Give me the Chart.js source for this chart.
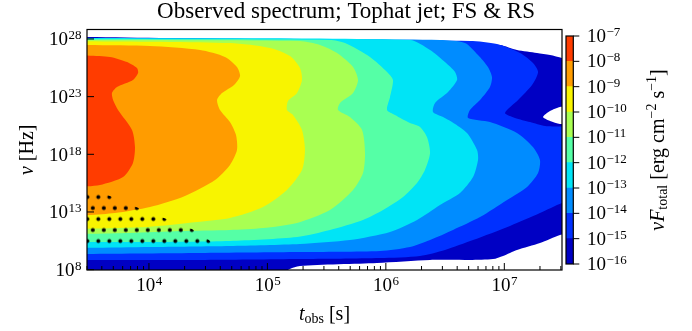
<!DOCTYPE html>
<html>
<head>
<meta charset="utf-8">
<script src="https://cdn.jsdelivr.net/npm/chart.js@4.4.0/dist/chart.umd.min.js"></script>
<style>
body { margin: 0; background: #fff; }
#wrap { position: relative; width: 692px; height: 331px; }
#main { position: absolute; left: 0; top: 0; }
#cbar { position: absolute; left: 560px; top: 0; }
</style>
</head>
<body>
<div id="wrap">
<canvas id="main" width="692" height="331"></canvas>
<canvas id="cbar" width="132" height="331"></canvas>
</div>
<script>
// axis limits (log10 of t_obs in s, log10 of nu in Hz)
var tMin = 3.477, tMax = 7.487;
var nuMin = 7.97, nuMax = 28.82;
var xTicks = [4, 5, 6, 7];
var yTicks = [8, 13, 18, 23, 28];

// colour levels, log10 of nu F_total
var levelExps = [-16, -15, -14, -13, -12, -11, -10, -9, -8, -7];
var levelColors = ['#0000c4', '#0030ff', '#008cff', '#00e4f6', '#55ffa6', '#a9ff52', '#f8f400', '#ff9c00', '#ff3c00'];

// contour outlines: region where nuF > 10^-n (log t, log nu)
var t8  = [3.40, 3.671, 3.815, 3.899, 3.908, 3.865, 3.730, 3.688, 3.697, 3.739, 3.857, 3.882, 3.865, 3.781, 3.587, 3.40];
var nu8 = [26.61, 26.44, 26.00, 25.48, 25.05, 24.44, 23.83, 23.31, 22.71, 21.84, 20.11, 18.63, 17.25, 16.03, 15.34, 15.17];

var t9  = [3.40, 4.009, 4.431, 4.642, 4.743, 4.769, 4.718, 4.617, 4.575, 4.600, 4.684, 4.735, 4.743, 4.684, 4.558, 4.304, 4.009, 3.713, 3.40];
var nu9 = [27.48, 27.39, 27.04, 26.44, 25.57, 24.79, 24.01, 23.31, 22.71, 21.84, 20.80, 19.67, 18.37, 17.07, 15.77, 14.39, 13.43, 12.91, 12.65];

var t10  = [3.40, 4.684, 5.022, 5.191, 5.275, 5.292, 5.250, 5.174, 5.165, 5.216, 5.292, 5.317, 5.292, 5.165, 4.963, 4.684, 4.406, 3.984, 3.40];
var nu10 = [27.82, 27.65, 27.22, 26.52, 25.48, 24.44, 23.31, 22.62, 21.84, 21.41, 20.11, 18.37, 16.64, 14.91, 13.43, 12.48, 12.13, 11.70, 11.53];

var t11  = [3.40, 5.275, 5.444, 5.588, 5.723, 5.765, 5.723, 5.613, 5.596, 5.697, 5.799, 5.824, 5.807, 5.723, 5.528, 5.250, 4.963, 4.684, 4.262, 3.840, 3.40];
var nu11 = [27.91, 27.82, 27.48, 26.78, 25.57, 24.44, 23.31, 22.45, 21.84, 21.23, 20.11, 18.11, 16.38, 14.91, 13.17, 12.05, 11.61, 11.44, 11.35, 11.18, 11.09];

var t12  = [3.40, 5.528, 5.655, 5.866, 6.010, 6.060, 6.035, 6.010, 6.077, 6.204, 6.288, 6.347, 6.373, 6.330, 6.263, 6.145, 5.976, 5.807, 5.528, 5.250, 4.684, 4.009, 3.40];
var nu12 = [28.00, 27.91, 27.65, 26.44, 25.14, 24.44, 22.97, 21.84, 21.41, 20.71, 20.37, 19.50, 18.11, 16.64, 15.51, 14.30, 13.17, 12.31, 11.44, 10.83, 10.49, 10.40, 10.40];

var t13  = [3.40, 6.204, 6.373, 6.499, 6.584, 6.601, 6.525, 6.415, 6.398, 6.483, 6.584, 6.685, 6.770, 6.778, 6.736, 6.626, 6.457, 6.263, 6.035, 5.697, 5.275, 4.684, 4.009, 3.40];
var nu13 = [28.08, 27.91, 27.04, 26.00, 25.14, 24.44, 23.40, 22.45, 21.67, 21.23, 20.63, 19.85, 18.37, 17.51, 16.03, 14.65, 13.61, 12.31, 11.27, 10.57, 10.23, 10.06, 9.97, 9.88];

var t14  = [3.40, 6.457, 6.668, 6.778, 6.862, 6.896, 6.879, 6.795, 6.710, 6.694, 6.879, 7.107, 7.242, 7.301, 7.285, 7.192, 7.023, 6.795, 6.567, 6.373, 6.204, 5.951, 5.275, 4.431, 3.40];
var nu14 = [28.08, 27.91, 27.65, 26.61, 25.57, 24.70, 23.83, 22.71, 21.84, 21.15, 20.80, 19.85, 18.63, 17.51, 16.38, 15.17, 14.04, 12.56, 11.44, 10.57, 9.97, 9.62, 9.53, 9.45, 9.36];

var t15  = [3.40, 6.710, 6.938, 7.133, 7.242, 7.285, 7.234, 7.116, 7.006, 7.090, 7.217, 7.344, 7.597, 7.597, 7.487, 7.301, 7.048, 6.736, 6.499, 6.288, 5.951, 5.275, 4.431, 3.40];
var nu15 = [28.08, 27.82, 27.56, 26.78, 25.92, 25.14, 24.01, 22.71, 21.58, 21.15, 20.80, 20.45, 20.11, 14.04, 13.78, 12.91, 11.79, 10.57, 9.71, 9.19, 9.01, 8.92, 8.84, 8.84];

var t16  = [3.40, 6.541, 6.964, 7.107, 7.276, 7.386, 7.487, 7.597, 7.597, 7.470, 7.386, 7.327, 7.386, 7.470, 7.597, 7.597, 7.470, 7.301, 7.107, 6.989, 6.905, 6.710, 6.373, 5.925, 5.275, 5.174, 5.106, 3.40];
var nu16 = [28.17, 27.74, 27.48, 27.04, 26.78, 26.61, 26.35, 26.00, 22.27, 22.10, 21.75, 21.23, 20.89, 20.63, 20.54, 11.27, 11.01, 10.31, 9.71, 9.19, 8.92, 8.84, 8.84, 8.58, 8.32, 7.97, 7.10, 7.10];

// dotted (hatched) region
var tHatch  = [3.40, 3.587, 3.671, 3.891, 4.127, 4.363, 4.507, 4.558, 3.40];
var nuHatch = [14.91, 14.73, 14.39, 13.43, 12.48, 11.53, 10.57, 9.97, 9.97];

var SERIF = '"Liberation Serif", "DejaVu Serif", serif';

function pts(t, nu) {
	return t.map(function(v, i) { return {x: v, y: nu[i]}; });
}

function dotPattern(ctx) {
	var c = document.createElement('canvas');
	c.width = 11; c.height = 22;
	var g = c.getContext('2d');
	g.fillStyle = '#000';
	[[2.5, 2.5], [8, 13.5]].forEach(function(p) {
		g.beginPath(); g.arc(p[0], p[1], 2, 0, Math.PI * 2); g.fill();
	});
	var pat = ctx.createPattern(c, 'repeat');
	pat.setTransform(new DOMMatrix().translate(84.8, 194.5));
	return pat;
}

// 10^n label with a real superscript
function drawPow(ctx, exp, x, y, align) {
	var base = '10', sup = String(exp).replace('-', '\u2212');
	ctx.font = '19px ' + SERIF;
	var wb = ctx.measureText(base).width;
	ctx.font = '13px ' + SERIF;
	var ws = ctx.measureText(sup).width;
	var x0 = x;
	if (align == 'right') x0 = x - wb - ws;
	if (align == 'center') x0 = x - (wb + ws) / 2;
	ctx.textAlign = 'left'; ctx.textBaseline = 'alphabetic'; ctx.fillStyle = '#000';
	ctx.font = '19px ' + SERIF;
	ctx.fillText(base, x0, y);
	ctx.font = '13px ' + SERIF;
	ctx.fillText(sup, x0 + wb + 0.5, y - 6);
}

function drawRich(ctx, parts, cx, cy, rot) {
	ctx.save();
	ctx.translate(cx, cy);
	if (rot) ctx.rotate(rot);
	var w = 0;
	parts.forEach(function(p) { ctx.font = p.f; w += ctx.measureText(p.t).width; });
	var x = -w / 2;
	ctx.textAlign = 'left'; ctx.textBaseline = 'alphabetic'; ctx.fillStyle = '#000';
	parts.forEach(function(p) {
		ctx.font = p.f;
		ctx.fillText(p.t, x, p.dy || 0);
		x += ctx.measureText(p.t).width;
	});
	ctx.restore();
}

var mainDecor = {
	id: 'mainDecor',
	afterDraw: function(chart) {
		var ctx = chart.ctx, a = chart.chartArea;
		var sx = chart.scales.x, sy = chart.scales.y;
		ctx.save();
		ctx.strokeStyle = '#000';
		ctx.lineWidth = 1.2;
		ctx.strokeRect(a.left, a.top, a.right - a.left, a.bottom - a.top);
		ctx.lineWidth = 1;
		ctx.beginPath();
		for (var n = Math.floor(tMin); n <= Math.ceil(tMax); n++) {
			for (var k = 1; k <= 9; k++) {
				var v = n + Math.log10(k);
				if (v < tMin || v > tMax) continue;
				var px = sx.getPixelForValue(v);
				var len = k == 1 ? 7 : 4;
				ctx.moveTo(px, a.bottom);
				ctx.lineTo(px, a.bottom - len);
			}
		}
		yTicks.forEach(function(v) {
			var py = sy.getPixelForValue(v);
			ctx.moveTo(a.left, py);
			ctx.lineTo(a.left + 7, py);
		});
		ctx.stroke();

		xTicks.forEach(function(v) {
			drawPow(ctx, v, sx.getPixelForValue(v), 290.5, 'center');
		});
		yTicks.forEach(function(v) {
			drawPow(ctx, v, a.left - 6, sy.getPixelForValue(v) + 6.5, 'right');
		});

		drawRich(ctx, [
			{t: 't', f: 'italic 20px ' + SERIF},
			{t: 'obs', f: '14px ' + SERIF, dy: 3},
			{t: ' [s]', f: '20px ' + SERIF}
		], (a.left + a.right) / 2, 320, 0);
		drawRich(ctx, [
			{t: '\u03bd', f: 'italic 20px ' + SERIF},
			{t: ' [Hz]', f: '20px ' + SERIF}
		], 33, (a.top + a.bottom) / 2, -Math.PI / 2);
		ctx.restore();
	}
};

var mainCtx = document.getElementById('main').getContext('2d');

var contours = [
	[t8, nu8], [t9, nu9], [t10, nu10], [t11, nu11], [t12, nu12],
	[t13, nu13], [t14, nu14], [t15, nu15], [t16, nu16]
];

var datasets = [{
	data: pts(tHatch, nuHatch),
	fill: 'shape',
	backgroundColor: dotPattern(mainCtx),
	borderColor: 'rgba(0,0,0,0)',
	borderWidth: 0,
	pointRadius: 0,
	tension: 0
}];
contours.forEach(function(c, i) {
	var col = levelColors[levelColors.length - 1 - i];
	datasets.push({
		data: pts(c[0], c[1]),
		fill: 'shape',
		backgroundColor: col,
		borderColor: 'rgba(0,0,0,0)',
		borderWidth: 0,
		pointRadius: 0,
		tension: 0.25
	});
});

new Chart(mainCtx, {
	type: 'line',
	data: {datasets: datasets},
	options: {
		responsive: false,
		animation: false,
		events: [],
		layout: {padding: 0},
		plugins: {
			legend: {display: false},
			tooltip: {enabled: false},
			title: {
				display: true,
				text: 'Observed spectrum; Tophat jet; FS & RS',
				color: '#000',
				font: {family: SERIF, size: 23, lineHeight: 1, weight: 'normal'},
				padding: {top: 0.5, bottom: 6}
			}
		},
		scales: {
			x: {
				type: 'linear', min: tMin, max: tMax,
				grid: {display: false}, border: {display: false}, ticks: {display: false},
				afterFit: function(s) { s.height = 61; }
			},
			y: {
				type: 'linear', min: nuMin, max: nuMax,
				grid: {display: false}, border: {display: false}, ticks: {display: false},
				afterFit: function(s) { s.width = 87; }
			},
			y2: {
				type: 'linear', position: 'right',
				grid: {display: false}, border: {display: false}, ticks: {display: false},
				afterFit: function(s) { s.width = 130; }
			}
		}
	},
	plugins: [mainDecor]
});

// colour bar
var cbarDecor = {
	id: 'cbarDecor',
	afterDraw: function(chart) {
		var ctx = chart.ctx, a = chart.chartArea, sy = chart.scales.y;
		ctx.save();
		ctx.strokeStyle = '#000';
		ctx.lineWidth = 1.2;
		ctx.strokeRect(a.left, a.top, a.right - a.left, a.bottom - a.top);
		ctx.lineWidth = 1;
		ctx.beginPath();
		levelExps.forEach(function(v) {
			var py = sy.getPixelForValue(v);
			ctx.moveTo(a.right, py);
			ctx.lineTo(a.right + 6, py);
		});
		ctx.stroke();
		levelExps.forEach(function(v) {
			drawPow(ctx, v, 27, sy.getPixelForValue(v) + 6, 'left');
		});
		drawRich(ctx, [
			{t: '\u03bd', f: 'italic 20px ' + SERIF},
			{t: 'F', f: 'italic 20px ' + SERIF},
			{t: 'total', f: '14px ' + SERIF, dy: 3},
			{t: ' [erg cm', f: '20px ' + SERIF},
			{t: '\u22122', f: '14px ' + SERIF, dy: -8},
			{t: ' s', f: '20px ' + SERIF},
			{t: '\u22121', f: '14px ' + SERIF, dy: -8},
			{t: ']', f: '20px ' + SERIF}
		], 104, (a.top + a.bottom) / 2, -Math.PI / 2);
		ctx.restore();
	}
};

new Chart(document.getElementById('cbar'), {
	type: 'bar',
	data: {
		labels: [''],
		datasets: levelColors.map(function(c, i) {
			return {
				data: [[levelExps[i], levelExps[i + 1]]],
				backgroundColor: c,
				borderWidth: 0,
				barPercentage: 1,
				categoryPercentage: 1,
				grouped: false
			};
		})
	},
	options: {
		responsive: false,
		animation: false,
		events: [],
		layout: {padding: {left: 6, top: 36, bottom: 67, right: 0}},
		plugins: {legend: {display: false}, tooltip: {enabled: false}},
		scales: {
			x: {display: false},
			y: {
				position: 'right', min: -16, max: -7,
				grid: {display: false}, border: {display: false}, ticks: {display: false},
				afterFit: function(s) { s.width = 118.7; }
			}
		}
	},
	plugins: [cbarDecor]
});
</script>
</body>
</html>
